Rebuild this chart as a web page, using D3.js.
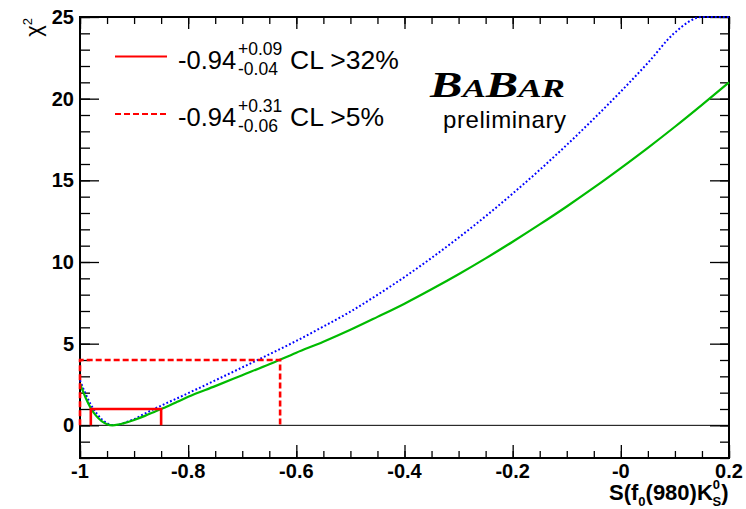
<!DOCTYPE html>
<html>
<head>
<meta charset="utf-8">
<script src="https://cdn.jsdelivr.net/npm/d3@7"></script>
<style>
  html, body { margin: 0; padding: 0; background: #fff; }
  svg { display: block; }
  text { font-family: "Liberation Sans", Arial, Helvetica, sans-serif; }
  text.logo { font-family: "Liberation Serif", "Times New Roman", serif; font-weight: bold; font-style: italic; }
</style>
</head>
<body>
<svg id="chart" width="746" height="509"></svg>
<script>
// Scan of S(f0(980)K0S): chi-square profile
const sGrid = [-1.00, -0.99, -0.98, -0.97, -0.96, -0.95, -0.94, -0.93, -0.92, -0.90,
               -0.88, -0.86, -0.85, -0.84, -0.82, -0.80, -0.75, -0.70, -0.65, -0.60,
               -0.55, -0.50, -0.45, -0.40, -0.35, -0.30, -0.25, -0.20, -0.15, -0.10,
               -0.05, 0.00, 0.05, 0.10, 0.15, 0.20];
// full scan (solid green)
const chi2Full = [2.55, 1.72, 1.05, 0.58, 0.26, 0.07, 0.00, 0.04, 0.12, 0.33,
                  0.58, 0.86, 1.00, 1.14, 1.44, 1.75, 2.40, 3.07, 3.74, 4.45,
                  5.12, 5.85, 6.64, 7.45, 8.33, 9.25, 10.22, 11.24, 12.30, 13.40,
                  14.55, 15.75, 16.99, 18.28, 19.62, 21.00];
// statistical-only scan (dotted blue)
const chi2Stat = [2.76, 1.95, 1.27, 0.76, 0.38, 0.13, 0.02, 0.03, 0.13, 0.38,
                  0.72, 1.05, 1.20, 1.36, 1.66, 1.97, 2.75, 3.55, 4.35, 5.17,
                  6.05, 6.96, 7.99, 9.08, 10.25, 11.49, 12.80, 14.19, 15.64, 17.17,
                  18.77, 20.44, 22.19, 24.05, 26.00, 27.90];

// central value and intervals
const central = -0.94;
const interval1 = { lo: 0.04, hi: 0.09, level: 1, cl: "CL >32%" };
const interval2 = { lo: 0.06, hi: 0.31, level: 4, cl: "CL >5%" };

const xDomain = [-1, 0.2];
const yDomain = [-2, 25];
const xMajor = [-1, -0.8, -0.6, -0.4, -0.2, 0, 0.2];
const xTickLabels = ["-1", "-0.8", "-0.6", "-0.4", "-0.2", "-0", "0.2"];
const yMajor = [0, 5, 10, 15, 20, 25];
const yTickLabels = ["0", "5", "10", "15", "20", "25"];

const svg = d3.select("#chart");
const m = { left: 80, top: 17, right: 17, bottom: 51 };
const W = 746 - m.left - m.right;
const H = 509 - m.top - m.bottom;

const x = d3.scaleLinear().domain(xDomain).range([m.left, m.left + W]);
const y = d3.scaleLinear().domain(yDomain).range([m.top + H, m.top]).clamp(true);

svg.append("defs").append("clipPath").attr("id", "plotclip")
  .append("rect").attr("x", m.left - 2).attr("y", m.top - 1).attr("width", W + 3).attr("height", H + 2);

// zero line
svg.append("line")
  .attr("x1", x(xDomain[0])).attr("x2", x(xDomain[1]))
  .attr("y1", y(0)).attr("y2", y(0))
  .attr("stroke", "#000").attr("stroke-width", 1);

// axes with major and minor ticks, mirrored on the opposite sides
const xMinor = d3.range(-1, 0.2001, 0.05).map(v => +v.toFixed(2));
const yMinor = d3.range(-2, 25.001, 1);

function tickAxis(axisGen, tx, ty) {
  const g = svg.append("g").attr("transform", `translate(${tx},${ty})`).call(axisGen);
  g.select(".domain").remove();
  g.selectAll("text").remove();
  g.selectAll("line").attr("stroke", "#000").attr("stroke-width", 1.3);
  return g;
}
// bottom
tickAxis(d3.axisTop(x).tickValues(xMinor).tickSize(7), 0, m.top + H);
tickAxis(d3.axisTop(x).tickValues(xMajor).tickSize(13), 0, m.top + H);
// top
tickAxis(d3.axisBottom(x).tickValues(xMinor).tickSize(7), 0, m.top);
tickAxis(d3.axisBottom(x).tickValues(xMajor).tickSize(12), 0, m.top);
// left
tickAxis(d3.axisRight(y).tickValues(yMinor).tickSize(10), m.left, 0);
tickAxis(d3.axisRight(y).tickValues(yMajor).tickSize(19), m.left, 0);
// right
tickAxis(d3.axisLeft(y).tickValues(yMinor).tickSize(9), m.left + W, 0);
tickAxis(d3.axisLeft(y).tickValues(yMajor).tickSize(19), m.left + W, 0);

// frame
svg.append("rect")
  .attr("x", m.left).attr("y", m.top).attr("width", W).attr("height", H)
  .attr("fill", "none").attr("stroke", "#000").attr("stroke-width", 2);

// tick labels
svg.append("g").selectAll("text").data(xMajor).join("text")
  .attr("x", d => x(d)).attr("y", m.top + H + 20)
  .attr("text-anchor", "middle")
  .attr("font-size", 20).attr("font-weight", "bold")
  .text((d, i) => xTickLabels[i]);
svg.append("g").selectAll("text").data(yMajor).join("text")
  .attr("x", m.left - 6).attr("y", d => y(d) + 7)
  .attr("text-anchor", "end")
  .attr("font-size", 20).attr("font-weight", "bold")
  .text((d, i) => yTickLabels[i]);

// curves
const line = d3.line().x(d => x(d[0])).y(d => y(d[1])).curve(d3.curveMonotoneX);
const curves = svg.append("g").attr("clip-path", "url(#plotclip)");
curves.append("path")
  .datum(sGrid.map((s, i) => [s, chi2Stat[i]]))
  .attr("d", line).attr("fill", "none")
  .attr("stroke", "#0000ff").attr("stroke-width", 2)
  .attr("stroke-dasharray", "1.8,2.2");
curves.append("path")
  .datum(sGrid.map((s, i) => [s, chi2Full[i]]))
  .attr("d", line).attr("fill", "none")
  .attr("stroke", "#00bb00").attr("stroke-width", 2.2);

// interval boxes: Δχ² = 1 (solid) and Δχ² = 4 (dashed)
function intervalBox(iv, dash, width) {
  const lo = central - iv.lo, hi = central + iv.hi;
  svg.append("path")
    .attr("fill", "none").attr("stroke", "#ff0000")
    .attr("stroke-width", width).attr("stroke-dasharray", dash)
    .attr("d", `M${x(lo)},${y(0)} L${x(lo)},${y(iv.level)} L${x(hi)},${y(iv.level)} L${x(hi)},${y(0)}`);
}
intervalBox(interval2, "6,3", 2.6);
intervalBox(interval1, null, 2.6);

// legend
const legend = svg.append("g");
const legendRows = [
  { iv: interval1, ly: 56.5, dash: null },
  { iv: interval2, ly: 114, dash: "6,3" }
];
legendRows.forEach(r => {
  legend.append("line")
    .attr("x1", 115).attr("x2", 167).attr("y1", r.ly).attr("y2", r.ly)
    .attr("stroke", "#ff0000").attr("stroke-width", 2).attr("stroke-dasharray", r.dash);
  const base = r.ly + 12;
  legend.append("text").attr("x", 178).attr("y", base).attr("font-size", 25.5)
    .text(central.toFixed(2));
  legend.append("text").attr("x", 238).attr("y", base - 14).attr("font-size", 17.5)
    .text("+" + r.iv.hi.toFixed(2));
  legend.append("text").attr("x", 238).attr("y", base + 6).attr("font-size", 17.5)
    .text((-r.iv.lo).toFixed(2));
  legend.append("text").attr("x", 290).attr("y", base).attr("font-size", 26.5)
    .text(r.iv.cl);
});

// experiment logo
const logoText = svg.append("text").attr("class", "logo")
  .attr("x", 0).attr("y", 0)
  .attr("transform", "translate(430,97) scale(1.35,1)");
[["B", 36], ["A", 26], ["B", 36], ["A", 26], ["R", 26]].forEach(([c, fs]) => {
  logoText.append("tspan").attr("font-size", fs).text(c);
});
svg.append("text").attr("x", 443).attr("y", 128).attr("font-size", 24)
  .attr("textLength", 123).text("preliminary");

// axis titles
const yTitle = svg.append("text")
  .attr("transform", "translate(41,18) rotate(-90)")
  .attr("text-anchor", "end").attr("font-size", 22);
yTitle.append("tspan").text("χ");
yTitle.append("tspan").attr("font-size", 13).attr("dy", -9).text("2");

const xTitle = svg.append("text").attr("x", 609).attr("y", 500)
  .attr("font-size", 22).attr("font-weight", "bold");
xTitle.append("tspan").text("S(f");
xTitle.append("tspan").attr("font-size", 13).attr("dy", 6).text("0");
xTitle.append("tspan").attr("dy", -6).text("(980)K");
xTitle.append("tspan").attr("font-size", 13).attr("dy", -11).text("0");
xTitle.append("tspan").attr("font-size", 13).attr("dx", -7.5).attr("dy", 17).text("S");
xTitle.append("tspan").attr("dy", -6).text(")");
</script>
</body>
</html>
